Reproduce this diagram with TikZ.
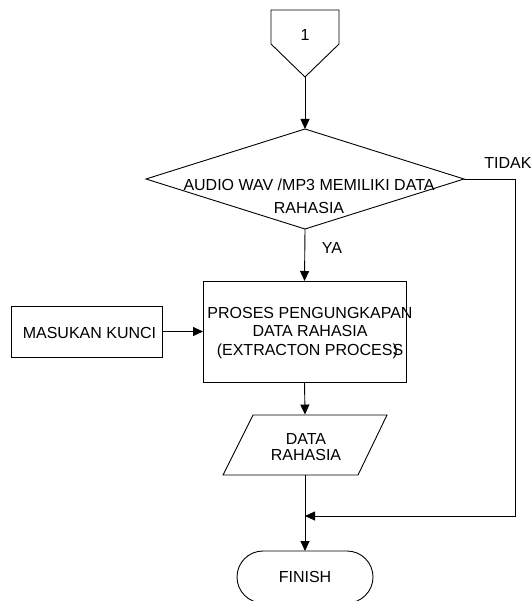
\documentclass[tikz,border=0pt]{standalone}
\usepackage{fontspec}
\setmainfont{Liberation Sans}
\usetikzlibrary{shapes.geometric,arrows.meta}
\begin{document}
\begin{tikzpicture}[x=1pt,y=-1pt,
  line width=0.9pt,
  txt/.style={font=\fontsize{16}{18.5}\selectfont, inner sep=0pt, align=center},
  shp/.style={draw, inner sep=0pt, outer sep=0pt},
  arr/.style={-{Triangle[length=10pt,width=9pt]}}]
\useasboundingbox (0,0) rectangle (531,601);
% off-page connector
\draw (271,10) -- (339,10) -- (339,44) -- (305,77) -- (271,44) -- cycle;
\node[txt] (one) at (305,35) {1};
\coordinate (conn) at (305,77);
% decision
\node[shp, diamond, minimum width=318pt, minimum height=100pt] (dec) at (305,179) {};
\node[txt, text depth=0pt] (dectxt) at (309,196) {\baselineskip=24pt AUDIO WAV /MP3 MEMILIKI DATA\\[5pt]RAHASIA};
% process
\node[shp, minimum width=203pt, minimum height=101pt] (proc) at (304.5,331.5) {};
\node[txt] (proctxt) at (310,333) {PROSES PENGUNGKAPAN\\DATA RAHASIA\\(EXTRACTON PROCES\rlap{)}S};
% key input
\node[shp, minimum width=151pt, minimum height=51pt] (key) at (86.5,331.5) {};
\node[txt] (keytxt) at (89.5,333) {MASUKAN KUNCI};
% data parallelogram
\draw (253,415) -- (387,415) -- (358,475) -- (223,475) -- cycle;
\node[txt, minimum height=60pt] (data) at (305,445) {};
\node[txt, font=\fontsize{16}{16.5}\selectfont] (datatxt) at (306,447) {DATA\\RAHASIA};
% finish
\node[shp, rounded corners=26pt, minimum width=136pt, minimum height=52pt] (fin) at (305,577) {};
\node[txt] (fintxt) at (305,577) {FINISH};
% labels
\node[txt] (ya) at (332,248) {YA};
\node[txt] (tidak) at (508,163) {TIDAK};
% coordinates
\coordinate (join) at (305,516);
\coordinate (r1) at (515,179);
% connectors
\draw[arr] (conn) -- (dec.north);
\draw[arr] (dec.south) -- (proc.north);
\draw[arr] (key.east) -- (proc.west);
\draw[arr] (proc.south) -- (data.north);
\draw[arr] (data.south) -- (fin.north);
\draw[arr] (dec.east) -- (r1) |- (join);
\end{tikzpicture}
\end{document}
